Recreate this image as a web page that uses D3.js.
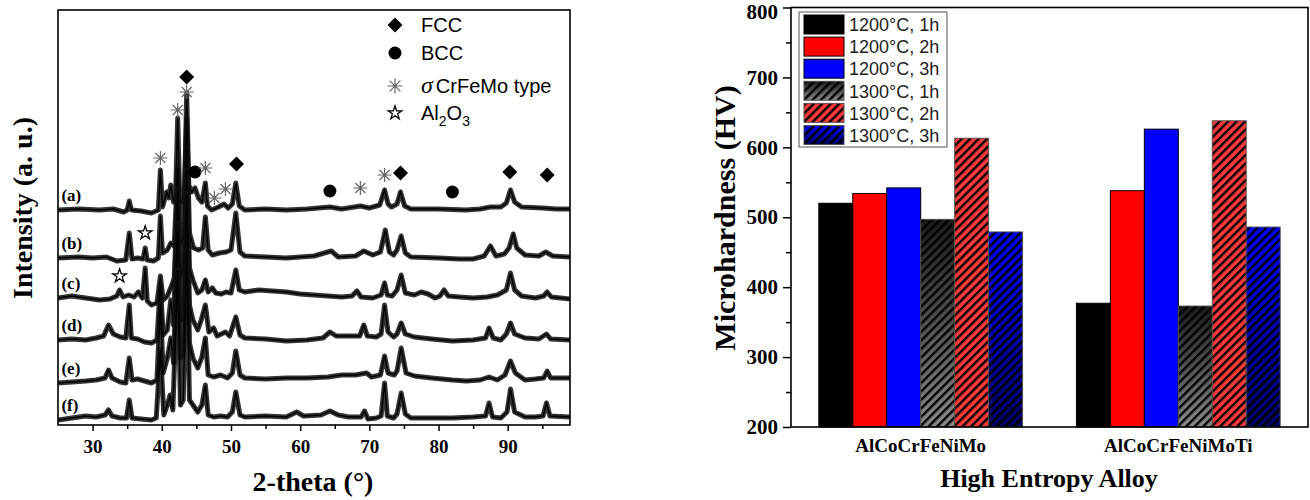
<!DOCTYPE html>
<html>
<head>
<meta charset="utf-8">
<script src="https://cdn.jsdelivr.net/npm/d3@7"></script>
<style>
body{margin:0;background:#fff}
svg{display:block}
</style>
</head>
<body>
<svg id="fig" width="1310" height="500"></svg>
<script>
// ---------- left panel: XRD patterns, [2theta, intensity above own baseline] ----------
var traceNames = ["(a)", "(b)", "(c)", "(d)", "(e)", "(f)"];
var traceOffsets = [215, 167, 127, 85, 42, 5];

var traceA = [[25,0],[28,1],[31,0],[33,1],[34.5,-2],[35.0,0],[35.3,9],[35.6,0],[37,-1],[38.5,-3],[39.5,0],[39.8,40],[40.1,3],[40.7,18],[41.0,12],[41.3,25],[41.7,8],[42.0,15],[42.3,92],[42.6,10],[42.9,8],[43.3,20],[43.6,117],[43.9,25],[44.3,18],[44.8,22],[45.3,12],[45.8,8],[46.3,27],[46.6,4],[47.2,0],[48.2,3],[49.0,6],[49.6,2],[50.2,6],[50.7,27],[51.2,4],[52,0],[55,1],[58,0],[61,1],[64.3,3],[66,1],[68.7,4],[70,2],[71.5,5],[72.2,20],[72.7,6],[73.2,3],[74.0,6],[74.5,18],[75.1,4],[76,1],[80,1],[84,0],[86,1],[87.5,3],[89,3],[89.8,7],[90.4,20],[91.0,8],[92,3],[95,2],[97,1],[99,1]];
var traceB = [[25,0],[28,1],[30,0],[32,1],[33.5,-3],[34.8,-2],[35.3,25],[35.7,-1],[36.5,0],[37.3,-1],[37.6,10],[37.9,-2],[38.8,-3],[39.5,0],[39.8,42],[40.1,5],[40.8,8],[41.3,15],[41.8,12],[42.3,90],[42.7,15],[43.1,20],[43.6,140],[44.0,25],[44.6,10],[45.3,8],[45.9,10],[46.3,41],[46.7,8],[47.3,3],[48.3,5],[49.3,6],[50.0,8],[50.7,45],[51.3,6],[52,2],[55,1],[58,0],[60,1],[62,2],[64.5,7],[65.5,1],[68,2],[69.2,7],[70.5,3],[71.6,6],[72.3,28],[72.9,6],[73.5,3],[74.0,8],[74.6,22],[75.2,5],[76,1],[80,0],[83,-1],[85,-1],[86.6,2],[87.5,12],[88.3,2],[89.5,4],[90.2,10],[90.8,24],[91.3,10],[92.5,3],[94.5,2],[95.5,6],[96.5,2],[99,1]];
var traceC = [[25,0],[27,2],[29,0],[31,-2],[32.5,-1],[33.5,2],[33.9,8],[34.4,1],[35.2,3],[36.0,1],[36.6,6],[37.2,0],[37.6,30],[37.9,-3],[38.5,-7],[39.3,-5],[39.8,22],[40.2,-2],[40.8,2],[41.4,12],[41.8,20],[42.3,110],[42.7,22],[43.2,30],[43.6,150],[44.0,30],[44.5,18],[45.2,5],[45.8,8],[46.3,18],[46.7,6],[47.3,10],[47.8,5],[48.6,4],[49.3,6],[50.0,5],[50.7,28],[51.2,8],[52,6],[54,8],[56,7],[58,6],[60,4],[62,3],[64,2],[66,1],[67.5,2],[68.2,7],[68.8,1],[70.5,0],[71.7,3],[72.2,15],[72.6,3],[73.3,2],[74.0,8],[74.6,23],[75.2,5],[76.5,3],[77.5,6],[78.5,4],[79.5,0],[80.2,2],[80.8,8],[81.4,2],[83,1],[85,0],[87,1],[88.5,3],[89.8,8],[90.4,25],[91.0,8],[92,2],[94,0],[95.2,2],[95.7,6],[96.3,1],[99,-1]];
var traceD = [[25,0],[27,1],[29,0],[30.5,2],[31.6,4],[32.3,15],[33.0,6],[34.0,3],[34.8,2],[35.3,35],[35.6,2],[36.5,1],[37.5,-2],[38.5,-3],[39.3,0],[39.8,55],[40.2,5],[40.8,10],[41.3,40],[41.7,15],[42.3,150],[42.7,20],[43.1,25],[43.6,170],[44.0,35],[44.5,20],[45.2,10],[45.7,20],[46.3,35],[46.8,8],[47.5,12],[48.0,4],[48.6,6],[49.2,8],[49.8,4],[50.7,23],[51.3,5],[52,2],[55,1],[58,-1],[61,0],[63.3,2],[64.3,8],[65.2,4],[67,4],[68.6,4],[69.2,15],[69.7,4],[71,3],[71.7,6],[72.2,35],[72.7,8],[73.5,3],[74.0,6],[74.6,17],[75.2,6],[76.5,3],[79,1],[82,-1],[85,0],[86.8,2],[87.3,12],[87.9,2],[89,0],[89.8,6],[90.4,17],[91.0,6],[92.5,2],[94.5,1],[95.6,6],[96.2,1],[99,0]];
var traceE = [[25,0],[27,1],[29,2],[30.5,3],[31.8,5],[32.3,13],[32.8,5],[34,1],[34.8,0],[35.3,25],[35.7,3],[36.5,4],[37.5,2],[38.5,0],[39.3,3],[39.8,80],[40.2,10],[40.8,25],[41.3,45],[41.7,20],[42.3,160],[42.7,25],[43.1,30],[43.6,190],[44.0,40],[44.5,25],[45.2,15],[45.8,26],[46.3,45],[46.7,8],[47.5,6],[48.5,8],[49.5,5],[50.2,10],[50.7,32],[51.3,8],[52,5],[55,4],[58,5],[61,5],[64,6],[66,8],[68,8],[69.6,10],[70.3,6],[71.6,8],[72.2,27],[72.7,10],[73.6,8],[74.0,12],[74.6,35],[75.3,10],[76.5,7],[79,5],[82,3],[84,2],[86,3],[87.3,6],[88.5,3],[89.6,8],[90.4,22],[91.1,10],[92.5,3],[94,4],[95.2,5],[95.7,12],[96.2,5],[99,5]];
var traceF = [[25,0],[27,2],[29,4],[30.5,3],[31.8,5],[32.3,10],[32.8,4],[34,2],[34.9,2],[35.3,20],[35.7,2],[37,1],[38.5,0],[39.2,2],[39.8,70],[40.3,5],[40.8,15],[41.2,25],[41.6,10],[42.3,150],[42.7,15],[43.1,20],[43.6,170],[44.0,20],[44.5,15],[45.2,8],[45.8,15],[46.3,35],[46.7,5],[47.5,3],[48.5,4],[49.5,3],[50.2,8],[50.7,28],[51.3,5],[52,3],[55,4],[58,3],[59.5,8],[60.5,4],[63,5],[64.3,9],[65.5,5],[67,3],[68.8,3],[69.3,9],[69.8,1],[71,2],[71.7,4],[72.2,37],[72.6,4],[73.5,2],[74.0,6],[74.6,27],[75.2,6],[76,2],[79,2],[82,2],[85,3],[86.8,4],[87.3,17],[87.8,3],[89,2],[89.9,8],[90.4,31],[91.0,8],[92.5,3],[94,3],[95.1,4],[95.6,17],[96.1,4],[99,3]];
var traces = [traceA, traceB, traceC, traceD, traceE, traceF];

// phase markers [2theta, absolute intensity]
var fccMarks = [[43.6,348],[50.8,261],[74.5,252],[90.3,253],[95.7,250]];
var bccMarks = [[44.8,253],[64.3,234],[82.0,233]];
var sigmaMarks = [[39.8,267],[42.3,315],[43.6,333],[46.3,257],[47.6,227],[49.2,236],[68.7,237],[72.2,250]];
var oxideMarks = [[37.6,192],[33.9,149]];
var xrdTicks = [30, 40, 50, 60, 70, 80, 90];
var xrdMinor = [35, 45, 55, 65, 75, 85, 95];

// ---------- right panel: microhardness ----------
var alloys = ["AlCoCrFeNiMo", "AlCoCrFeNiMoTi"];
var conditions = ["1200°C, 1h", "1200°C, 2h", "1200°C, 3h", "1300°C, 1h", "1300°C, 2h", "1300°C, 3h"];
var hardMo = [520, 534, 542, 497, 613, 479];
var hardMoTi = [377, 538, 626, 373, 638, 486];
var hvTicks = [200, 300, 400, 500, 600, 700, 800];
var hvMinor = [250, 350, 450, 550, 650, 750];

var serif = "'Liberation Serif','Times New Roman',serif",
    sans = "'Liberation Sans',Arial,sans-serif";

var svg = d3.select("#fig");
var defs = svg.append("defs");

// ======== XRD ========
var L = {left: 58, right: 570, top: 10, bottom: 425};
var x = d3.scaleLinear().domain([25, 99]).range([L.left, L.right]);
var y = d3.scaleLinear().domain([0, 415]).range([L.bottom, L.top]);

defs.append("clipPath").attr("id", "clipL")
  .append("rect").attr("x", L.left).attr("y", L.top)
  .attr("width", L.right - L.left).attr("height", L.bottom - L.top);

var line = d3.line();
var gT = svg.append("g").attr("clip-path", "url(#clipL)");
traces.forEach(function(t, i) {
  var pts = t.map(function(p) { return [x(p[0]), y(p[1] + traceOffsets[i])]; });
  // noisy band look
  gT.append("path").attr("d", line(pts))
    .attr("fill", "none").attr("stroke", "#111").attr("stroke-width", 5)
    .attr("stroke-linejoin", "round").attr("stroke-opacity", 0.85);
  gT.append("path").attr("d", line(pts))
    .attr("fill", "none").attr("stroke", "#000").attr("stroke-width", 1.4);
});

svg.append("g").selectAll("text").data(traceNames).enter().append("text")
  .attr("x", x(25.5)).attr("y", function(d, i) { return y(traceOffsets[i] + 9); })
  .attr("font-family", serif).attr("font-weight", "bold").attr("font-size", 17)
  .text(function(d) { return d; });

function asterisk(cx, cy, r) {
  var k = r * 0.72;
  return "M" + (cx - r) + "," + cy + "L" + (cx + r) + "," + cy +
    "M" + cx + "," + (cy - r) + "L" + cx + "," + (cy + r) +
    "M" + (cx - k) + "," + (cy - k) + "L" + (cx + k) + "," + (cy + k) +
    "M" + (cx - k) + "," + (cy + k) + "L" + (cx + k) + "," + (cy - k);
}
var diamond = d3.symbol().type(d3.symbolSquare).size(112);
var star = d3.symbol().type(d3.symbolStar).size(58);

var gM = svg.append("g");
gM.selectAll(".fcc").data(fccMarks).enter().append("path")
  .attr("d", diamond)
  .attr("transform", function(d) { return "translate(" + x(d[0]) + "," + y(d[1]) + ")rotate(45)"; });
gM.selectAll(".bcc").data(bccMarks).enter().append("circle")
  .attr("cx", function(d) { return x(d[0]); }).attr("cy", function(d) { return y(d[1]); })
  .attr("r", 6.5);
gM.selectAll(".sig").data(sigmaMarks).enter().append("path")
  .attr("d", function(d) { return asterisk(x(d[0]), y(d[1]), 7); })
  .attr("stroke", "#666").attr("stroke-width", 1.2).attr("fill", "none");
gM.selectAll(".ox").data(oxideMarks).enter().append("path")
  .attr("d", star)
  .attr("transform", function(d) { return "translate(" + x(d[0]) + "," + y(d[1]) + ")"; })
  .attr("fill", "#fff").attr("stroke", "#000").attr("stroke-width", 1.3);

// legend
var lg = svg.append("g").attr("font-family", sans).attr("font-size", 20);
lg.append("path").attr("d", diamond).attr("transform", "translate(395,25)rotate(45)");
lg.append("text").attr("x", 421).attr("y", 32).text("FCC");
lg.append("circle").attr("cx", 395).attr("cy", 53).attr("r", 6.5);
lg.append("text").attr("x", 421).attr("y", 60).text("BCC");
lg.append("path").attr("d", asterisk(395, 86, 7.5)).attr("stroke", "#666").attr("stroke-width", 1.2);
var sg = lg.append("text").attr("x", 421).attr("y", 93);
sg.append("tspan").attr("font-style", "italic").attr("font-family", serif).attr("font-size", 24).text("σ");
sg.append("tspan").attr("dx", 3).text("CrFeMo type");
lg.append("path").attr("d", star).attr("transform", "translate(395,113)")
  .attr("fill", "#fff").attr("stroke", "#000").attr("stroke-width", 1.3);
var ox = lg.append("text").attr("x", 421).attr("y", 120);
ox.append("tspan").text("Al");
ox.append("tspan").attr("font-size", 14).attr("dy", 6).text("2");
ox.append("tspan").attr("dy", -6).text("O");
ox.append("tspan").attr("font-size", 14).attr("dy", 6).text("3");

// axes + frame
var axL = svg.append("g").attr("transform", "translate(0," + L.bottom + ")")
  .call(d3.axisBottom(x).tickValues(xrdTicks).tickSize(6).tickPadding(9).tickFormat(d3.format("d")));
axL.select(".domain").remove();
axL.selectAll("line").attr("stroke-width", 1.5);
axL.selectAll("text").attr("font-family", serif).attr("font-weight", "bold").attr("font-size", 19);
var axLm = svg.append("g").attr("transform", "translate(0," + L.bottom + ")")
  .call(d3.axisBottom(x).tickValues(xrdMinor).tickSize(4).tickFormat(""));
axLm.select(".domain").remove();
axLm.selectAll("line").attr("stroke-width", 1.5);

svg.append("rect").attr("x", L.left).attr("y", L.top)
  .attr("width", L.right - L.left).attr("height", L.bottom - L.top)
  .attr("fill", "none").attr("stroke", "#000").attr("stroke-width", 1.6);

svg.append("text").attr("x", 313).attr("y", 491).attr("text-anchor", "middle")
  .attr("font-family", serif).attr("font-weight", "bold").attr("font-size", 28)
  .text("2-theta (°)");
svg.append("text").attr("transform", "translate(32,208)rotate(-90)").attr("text-anchor", "middle")
  .attr("font-family", serif).attr("font-weight", "bold").attr("font-size", 28)
  .text("Intensity (a. u.)");

// ======== microhardness bars ========
var R = {left: 791, right: 1308, top: 7.5, bottom: 427};
var x0 = d3.scaleBand().domain(alloys).range([R.left, R.right])
  .paddingInner(0.209).paddingOuter(0.108);
var x1 = d3.scaleBand().domain(conditions).range([0, x0.bandwidth()]);
var yh = d3.scaleLinear().domain([200, 800]).range([R.bottom, R.top]);

var table = alloys.map(function(a, i) {
  var vals = i == 0 ? hardMo : hardMoTi;
  return {alloy: a, values: conditions.map(function(c, j) { return {cond: c, value: vals[j], k: j}; })};
});

// fills: gradients for hatched black/blue + stripe overlay
var gg = defs.append("linearGradient").attr("id", "gGrey").attr("x1", 0).attr("y1", 0).attr("x2", 0).attr("y2", 1);
gg.append("stop").attr("offset", 0).attr("stop-color", "#1a1a1a");
gg.append("stop").attr("offset", 1).attr("stop-color", "#8a8a8a");
var gb = defs.append("linearGradient").attr("id", "gBlue").attr("x1", 0).attr("y1", 0).attr("x2", 0).attr("y2", 1);
gb.append("stop").attr("offset", 0).attr("stop-color", "#0000ff");
gb.append("stop").attr("offset", 1).attr("stop-color", "#000066");
var hp = defs.append("pattern").attr("id", "hatch").attr("patternUnits", "userSpaceOnUse")
  .attr("width", 6).attr("height", 6).attr("patternTransform", "rotate(45)");
hp.append("rect").attr("width", 2.4).attr("height", 6).attr("fill", "#000");

var fills = ["#000000", "#ff0000", "#0000ff", "url(#gGrey)", "#ff3a3a", "url(#gBlue)"];
var hatched = [false, false, false, true, true, true];

var groups = svg.append("g").selectAll("g").data(table).enter().append("g")
  .attr("transform", function(d) { return "translate(" + x0(d.alloy) + ",0)"; });
groups.selectAll("rect.base").data(function(d) { return d.values; }).enter().append("rect")
  .attr("x", function(d) { return x1(d.cond); })
  .attr("y", function(d) { return yh(d.value); })
  .attr("width", x1.bandwidth())
  .attr("height", function(d) { return yh(200) - yh(d.value); })
  .attr("fill", function(d) { return fills[d.k]; })
  .attr("stroke", function(d) { return hatched[d.k] ? "#555" : "#000"; })
  .attr("stroke-width", 1);
groups.selectAll("rect.hatch").data(function(d) { return d.values.filter(function(v) { return hatched[v.k]; }); })
  .enter().append("rect")
  .attr("x", function(d) { return x1(d.cond) + 0.5; })
  .attr("y", function(d) { return yh(d.value) + 0.5; })
  .attr("width", x1.bandwidth() - 1)
  .attr("height", function(d) { return yh(200) - yh(d.value) - 1; })
  .attr("fill", "url(#hatch)");

// legend
var rl = svg.append("g");
rl.append("rect").attr("x", 799).attr("y", 12).attr("width", 148).attr("height", 135)
  .attr("fill", "#fff").attr("stroke", "#555").attr("stroke-width", 1);
var rows = rl.selectAll("g").data(conditions).enter().append("g")
  .attr("transform", function(d, i) { return "translate(804," + (15 + i * 22.1) + ")"; });
rows.append("rect").attr("width", 40).attr("height", 19)
  .attr("fill", function(d, i) { return fills[i]; })
  .attr("stroke", function(d, i) { return hatched[i] ? "#555" : "#000"; });
rows.filter(function(d, i) { return hatched[i]; }).append("rect")
  .attr("x", 0.5).attr("y", 0.5).attr("width", 39).attr("height", 18).attr("fill", "url(#hatch)");
rows.append("text").attr("x", 45).attr("y", 10).attr("dy", "0.35em")
  .attr("font-family", sans).attr("font-size", 18).attr("fill", "#222")
  .text(function(d) { return d; });

// axes
var axR = svg.append("g").attr("transform", "translate(" + R.left + ",0)")
  .call(d3.axisLeft(yh).tickValues(hvTicks).tickSize(8).tickPadding(5));
axR.select(".domain").remove();
axR.selectAll("line").attr("stroke-width", 1.5);
axR.selectAll("text").attr("font-family", serif).attr("font-weight", "bold").attr("font-size", 21);
// keep the top label inside the picture
axR.selectAll("text").filter(function(d) { return d == 800; }).attr("dy", "0.5em");
var axRm = svg.append("g").attr("transform", "translate(" + R.left + ",0)")
  .call(d3.axisLeft(yh).tickValues(hvMinor).tickSize(5).tickFormat(""));
axRm.select(".domain").remove();
axRm.selectAll("line").attr("stroke-width", 1.5);

svg.append("rect").attr("x", R.left).attr("y", R.top)
  .attr("width", R.right - R.left).attr("height", R.bottom - R.top)
  .attr("fill", "none").attr("stroke", "#000").attr("stroke-width", 1.6);

svg.append("g").selectAll("text").data(alloys).enter().append("text")
  .attr("x", function(d) { return x0(d) + x0.bandwidth() / 2; }).attr("y", 452)
  .attr("text-anchor", "middle")
  .attr("font-family", serif).attr("font-weight", "bold").attr("font-size", 19)
  .text(function(d) { return d; });

svg.append("text").attr("x", 1049).attr("y", 487).attr("text-anchor", "middle")
  .attr("font-family", serif).attr("font-weight", "bold").attr("font-size", 26)
  .text("High Entropy Alloy");
svg.append("text").attr("transform", "translate(735,218)rotate(-90)").attr("text-anchor", "middle")
  .attr("font-family", serif).attr("font-weight", "bold").attr("font-size", 30)
  .text("Microhardness (HV)");
</script>
</body>
</html>
